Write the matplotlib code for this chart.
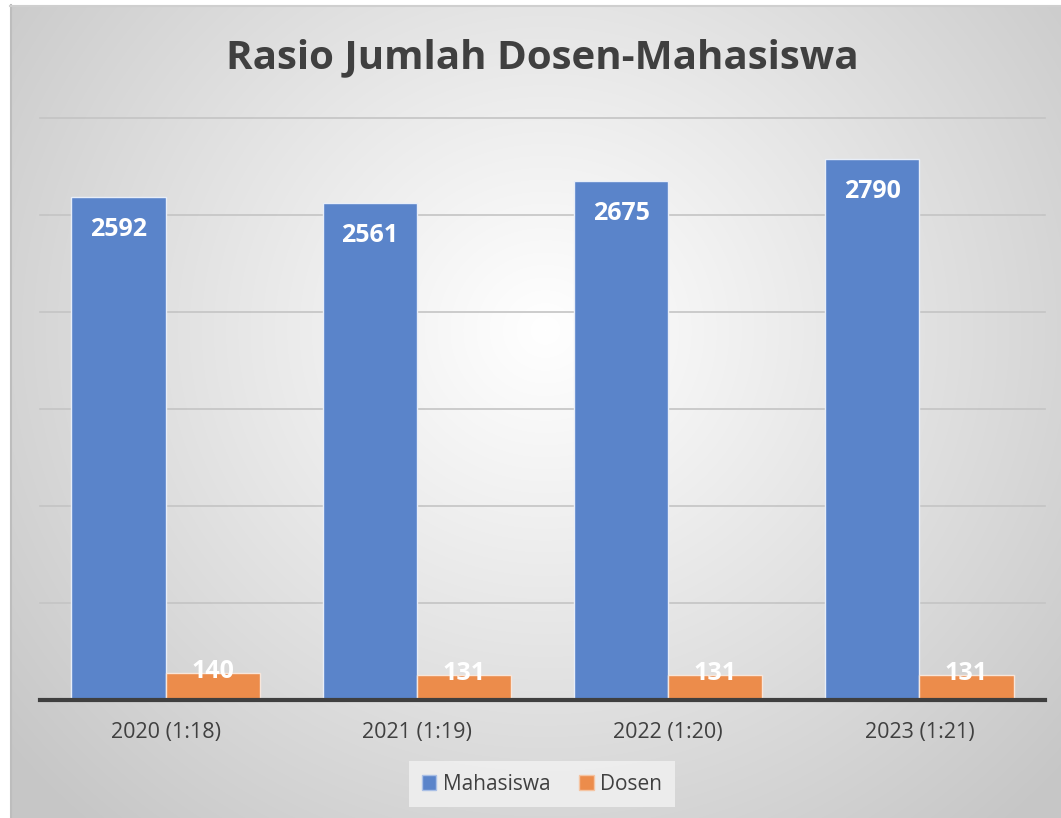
import numpy as np
import matplotlib
matplotlib.use("Agg")
import matplotlib.pyplot as plt
from matplotlib.patches import Patch

# ---- data ----
categories = ["2020 (1:18)", "2021 (1:19)", "2022 (1:20)", "2023 (1:21)"]
mahasiswa = [2592, 2561, 2675, 2790]
dosen = [140, 131, 131, 131]
series_names = ["Mahasiswa", "Dosen"]
title = "Rasio Jumlah Dosen-Mahasiswa"

W, H = 1061, 818
plt.rcParams['font.family'] = ['Open Sans', 'DejaVu Sans']
fig = plt.figure(figsize=(W / 100, H / 100), dpi=100)

# ---- background radial gradient ----
bg = fig.add_axes([0, 0, 1, 1], zorder=-10)
yy, xx = np.mgrid[0:H, 0:W]
r = np.sqrt(((xx - 545) / 1.0) ** 2 + ((yy - 330) / 0.95) ** 2)
v = 255 - 57 * np.clip(r / 700, 0, 1) ** 1.05
img = np.dstack([v, v, v]) / 255.0
img[:, :10] = 1.0
img[:5, :] = 1.0
bg.imshow(img, extent=[0, W, H, 0], aspect='auto', interpolation='bilinear')
bg.plot([10.5, 10.5], [5, H], color='#BDBDBD', lw=1.5)
bg.plot([10, W], [5.5, 5.5], color='#CFCFCF', lw=1.5)
bg.set_xlim(0, W)
bg.set_ylim(H, 0)
bg.axis('off')

# ---- main axes ----
x0, x1 = 40, 1045
ytop, ybot = 118, 700
ax = fig.add_axes([x0 / W, 1 - ybot / H, (x1 - x0) / W, (ybot - ytop) / H])
ax.set_facecolor('none')
ax.set_xlim(-0.5, len(categories) - 0.5)
ax.set_ylim(0, 3000)
for s in ax.spines.values():
    s.set_visible(False)
ax.set_yticks([])
for g in range(500, 3001, 500):
    ax.axhline(g, color='#C4C4C4', lw=1.2, zorder=0, clip_on=False)
ax.axhline(0, color='#3F3F3F', lw=3, zorder=5, clip_on=False)

xs = np.arange(len(categories))
bw = 0.375
b1 = ax.bar(xs - bw / 2, mahasiswa, bw, color='#5A84CA', edgecolor='#E8EEF8', lw=1, zorder=2)
b2 = ax.bar(xs + bw / 2, dosen, bw, color='#EC8C4B', edgecolor='#F8E6DA', lw=1, zorder=2)

for rect, val in zip(b1, mahasiswa):
    ax.annotate(f"{val}", (rect.get_x() + rect.get_width() / 2, val),
                xytext=(0, -23.5), textcoords='offset points', ha='center', va='center',
                color='white', fontsize=18, fontweight='bold', zorder=6)
for rect, val in zip(b2, dosen):
    ax.annotate(f"{val}", (rect.get_x() + rect.get_width() / 2, val),
                xytext=(0, 1), textcoords='offset points', ha='center', va='center',
                color='white', fontsize=18, fontweight='bold', zorder=6)

ax.set_xticks(xs)
ax.set_xticklabels(categories, fontsize=15.5, color='#404040')
ax.tick_params(axis='x', length=0, pad=16)

# ---- title ----
fig.text(542 / W, 1 - 58 / H, title, ha='center', va='center',
         fontsize=29, fontweight='bold', color='#404040')

# ---- legend ----
handles = [Patch(facecolor='#5A84CA', edgecolor='#A9BFE6'),
           Patch(facecolor='#EC8C4B', edgecolor='#F5C4A2')]
leg = fig.legend(handles, series_names, loc='center', bbox_to_anchor=(542 / W, 1 - 784 / H),
                 ncol=2, frameon=True, fontsize=15, handlelength=0.7, handleheight=0.7,
                 handletextpad=0.3, columnspacing=1.4, borderpad=0.6)
leg.get_frame().set_facecolor('#F2F2F2')
leg.get_frame().set_edgecolor('none')
leg.get_frame().set_boxstyle('square', pad=0)
for t in leg.get_texts():
    t.set_color('#404040')

fig.savefig('out.png', dpi=100)
